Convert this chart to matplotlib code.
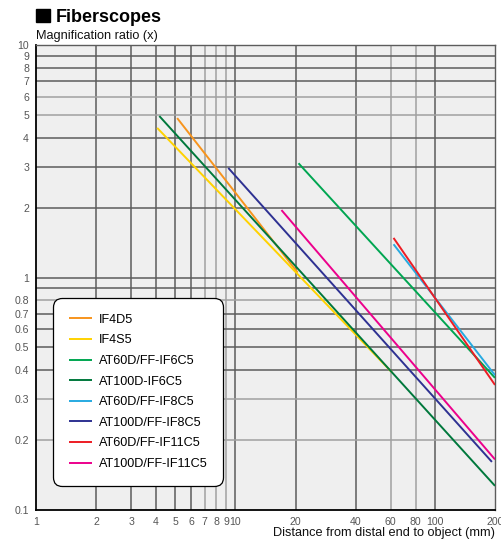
import matplotlib
matplotlib.use("Agg")
import matplotlib.pyplot as plt
from matplotlib.patches import Rectangle

plt.rcParams['font.family'] = ['Liberation Sans', 'DejaVu Sans']

# series: (distance start, distance end), (magnification start, magnification end)
names = ["IF4D5", "IF4S5", "AT60D/FF-IF6C5", "AT100D-IF6C5",
         "AT60D/FF-IF8C5", "AT100D/FF-IF8C5", "AT60D/FF-IF11C5", "AT100D/FF-IF11C5"]
dist = [[5.1, 20.5], [4.05, 61], [20.7, 200], [4.15, 200],
        [62, 200], [9.2, 193], [62, 200], [17, 200]]
magn = [[4.85, 1.05], [4.4, 0.39], [3.1, 0.37], [4.95, 0.127],
        [1.39, 0.38], [2.96, 0.161], [1.48, 0.345], [1.95, 0.165]]
colors = ["#f7941d", "#ffd200", "#00a651", "#00783c",
          "#27aae1", "#2e3192", "#ed1c24", "#ec008c"]

x_ticks = [1, 2, 3, 4, 5, 6, 7, 8, 9, 10, 20, 40, 60, 80, 100, 200]
y_ticks = [0.1, 0.2, 0.3, 0.4, 0.5, 0.6, 0.7, 0.8, 0.9, 1, 2, 3, 4, 5, 6, 7, 8, 9, 10]
y_labels = ["0.1", "0.2", "0.3", "0.4", "0.5", "0.6", "0.7", "0.8", "", "1",
            "2", "3", "4", "5", "6", "7", "8", "9", "10"]
x_light = [7, 8, 9, 60, 80]
y_light = [0.2, 0.3, 0.8, 5, 6]

W, H = 501, 543
fig = plt.figure(figsize=(W / 100, H / 100), dpi=100)
ax = fig.add_axes([36 / W, 1 - 510 / H, 459 / W, 465 / H])
ax.set_facecolor("#efefef")
ax.set_xscale("log")
ax.set_yscale("log")
ax.set_xlim(1, 200)
ax.set_ylim(0.1, 10)

ax.set_xticks(x_ticks)
ax.set_xticklabels([str(v) for v in x_ticks])
ax.set_yticks(y_ticks)
ax.set_yticklabels(y_labels)
ax.minorticks_off()
ax.tick_params(length=0, labelsize=7.6, colors="#555555", pad=5)

# grid lines, some printed lighter
for v in x_ticks[1:-1]:
    c = "#a0a0a0" if v in x_light else "#5c5c5c"
    ax.axvline(v, color=c, lw=1.1, zorder=1)
for v in y_ticks[1:-1]:
    c = "#a0a0a0" if v in y_light else "#5c5c5c"
    ax.axhline(v, color=c, lw=1.1, zorder=1)

for s in ["left", "bottom"]:
    ax.spines[s].set_color("black")
    ax.spines[s].set_linewidth(1.3)
for s in ["top", "right"]:
    ax.spines[s].set_color("#5c5c5c")
    ax.spines[s].set_linewidth(1.0)

for name, xs, ys, c in zip(names, dist, magn, colors):
    ax.plot(xs, ys, color=c, lw=1.4, label=name, zorder=3, solid_capstyle="butt")

leg = ax.legend(loc="lower left", bbox_to_anchor=(0.037, 0.052), borderaxespad=0,
                fontsize=9.1, frameon=True, framealpha=1, edgecolor="black",
                fancybox=True, borderpad=1.25, labelspacing=0.68,
                handlelength=1.85, handletextpad=0.5)
frame = leg.get_frame()
frame.set_linewidth(0.9)
frame.set_boxstyle("round,pad=0,rounding_size=0.7")
leg.set_zorder(5)

ax.text(1.0, -0.036, "Distance from distal end to object (mm)", transform=ax.transAxes,
        ha="right", va="top", fontsize=9.2, color="#111111")

# title block
fig.patches.append(Rectangle((36 / W, 1 - 22 / H), 14 / W, 13 / H, color="black",
                             transform=fig.transFigure, figure=fig))
fig.text(56 / W, 1 - 22 / H, "Fiberscopes", fontsize=13, fontweight="bold",
         ha="left", va="baseline")
fig.text(36 / W, 1 - 39 / H, "Magnification ratio (x)", fontsize=9.2,
         ha="left", va="baseline", color="#111111")

fig.savefig("out.png", dpi=100)
